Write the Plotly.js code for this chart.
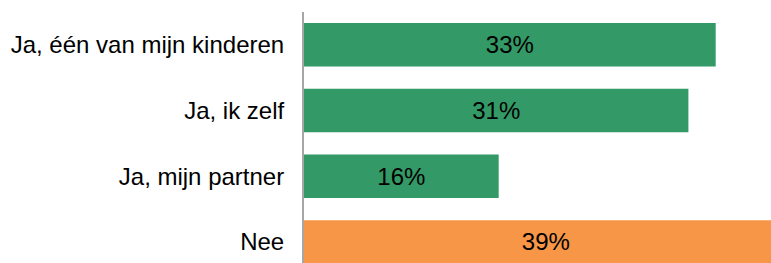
<!DOCTYPE html>
<html>
<head>
<meta charset="utf-8">
<script src="https://cdn.plot.ly/plotly-3.0.1.min.js"></script>
<style>html,body{margin:0;padding:0;background:#fff;overflow:hidden}#chart{width:771px;height:263px}</style>
</head>
<body>
<div id="chart"></div>
<script>
const categories = ["Ja, één van mijn kinderen", "Ja, ik zelf", "Ja, mijn partner", "Nee"];
const values = [33.2, 31.0, 15.7, 39.0];
const labels = ["33%", "31%", "16%", "39%"];
const colors = ["#339966", "#339966", "#339966", "#F79646"];

const trace = {
  type: "bar",
  orientation: "h",
  y: categories,
  x: values,
  text: labels,
  textposition: "inside",
  insidetextanchor: "middle",
  textangle: 0,
  textfont: {family: "Liberation Sans, Arial, sans-serif", size: 24, color: "#000"},
  marker: {color: colors, line: {width: 0}},
  hoverinfo: "none"
};

const layout = {
  width: 771,
  height: 263,
  margin: {l: 304, r: 0, t: 12, b: 0, pad: 0},
  paper_bgcolor: "#fff",
  plot_bgcolor: "#fff",
  bargap: 0.338,
  showlegend: false,
  font: {family: "Liberation Sans, Arial, sans-serif", size: 24, color: "#000"},
  xaxis: {
    range: [0, 37.66],
    showgrid: false,
    zeroline: false,
    showline: false,
    showticklabels: false,
    ticks: ""
  },
  yaxis: {
    type: "category",
    range: [3.32, -0.5],
    showgrid: false,
    zeroline: false,
    showline: true,
    linecolor: "#a6a6a6",
    linewidth: 2,
    ticks: "outside",
    ticklen: 13,
    tickcolor: "rgba(0,0,0,0)",
    tickfont: {family: "Liberation Sans, Arial, sans-serif", size: 24, color: "#000"}
  }
};

Plotly.newPlot("chart", [trace], layout, {staticPlot: true, displayModeBar: false});
</script>
</body>
</html>
